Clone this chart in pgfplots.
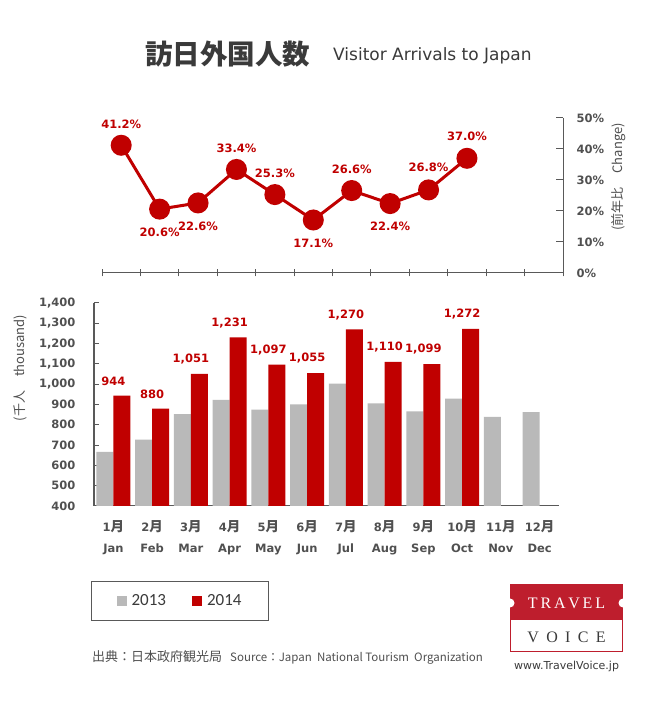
\documentclass[border=0pt]{standalone}
\usepackage{fontspec}
\setmainfont{DejaVu Sans}
\newfontfamily\cjk{Noto Sans CJK JP}
\newfontfamily\carlito{Carlito}
\newfontfamily\logoserif{Liberation Serif}
\usepackage{pgfplots}
\pgfplotsset{compat=1.18}
\pgfplotsset{/pgf/number format/.cd, 1000 sep={,}, assume math mode=true}

\definecolor{redbar}{HTML}{C00000}
\definecolor{graybar}{HTML}{B9B9B9}
\definecolor{axisgray}{HTML}{595959}
\definecolor{labelgray}{HTML}{505050}
\definecolor{titlegray}{HTML}{3A3A3A}
\definecolor{logored}{HTML}{BE1E2D}

\newcommand{\lblfont}{\fontsize{11.5}{21}\selectfont\bfseries}
\newcommand{\tsu}{{\cjk\fontsize{13.5}{21}\selectfont 月}}

\pgfplotstableread{
x    y     dy
0.5  41.2  21
1.5  20.6  -23
2.5  22.6  -23
3.5  33.4  21
4.5  25.3  21
5.5  17.1  -23
6.5  26.6  21
7.5  22.4  -23
8.5  26.8  23
9.5  37.0  22
}\change

\begin{document}
\begin{tikzpicture}[x=1pt,y=1pt]
\fill[white] (0,0) rectangle (655,707);

% title
\node[anchor=west, inner sep=0, text=titlegray, font=\cjk\bfseries\fontsize{27.5}{30}\selectfont] at (145,653) {訪日外国人数};
\node[anchor=west, inner sep=0, text=titlegray, font=\fontsize{17}{20}\selectfont] at (333,651) {Visitor Arrivals to Japan};

% year-on-year change
\begin{axis}[
  at={(102pt,434pt)}, anchor=south west,
  scale only axis, width=461pt, height=155pt,
  xmin=0, xmax=12, ymin=0, ymax=50,
  enlargelimits=false,
  axis x line*=bottom, axis y line*=right,
  axis line style={-, draw=axisgray, line width=1pt},
  xtick={0,1,2,3,4,5,6,7,8,9,10,11,12}, xticklabels={},
  ytick={0,10,20,30,40,50},
  yticklabel={\pgfmathprintnumber{\tick}\%},
  yticklabel style={font=\lblfont, text=labelgray, xshift=10pt},
  tick align=inside, major tick length=7pt,
  tick style={draw=axisgray, line width=1pt},
  major x tick style={yshift=-3.5pt},
]
\addplot[redbar, line width=3pt, mark=*, mark size=9pt,
  mark options={fill=redbar, draw=none},
  point meta=explicit,
  visualization depends on={\thisrow{dy} \as \dy},
  nodes near coords={\pgfmathprintnumber[fixed,fixed zerofill,precision=1]{\pgfplotspointmeta}\%},
  every node near coord/.append style={font=\lblfont, text=redbar, anchor=center, yshift=\dy pt}]
  table[x=x, y=y, meta=y] {\change};
\end{axis}

% arrivals
\begin{axis}[
  at={(94pt,201pt)}, anchor=south west,
  scale only axis, width=465pt, height=203pt,
  xmin=0, xmax=12, ymin=400, ymax=1400,
  enlargelimits=false,
  axis x line*=bottom, axis y line*=left,
  axis line style={-, draw=axisgray, line width=1pt},
  ytick={400,500,600,700,800,900,1000,1100,1200,1300,1400},
  yticklabel style={font=\lblfont, text=labelgray, xshift=-15pt},
  xtick={0.5,1.5,2.5,3.5,4.5,5.5,6.5,7.5,8.5,9.5,10.5,11.5},
  xticklabels={{1\tsu\\Jan},{2\tsu\\Feb},{3\tsu\\Mar},{4\tsu\\Apr},{5\tsu\\May},{6\tsu\\Jun},
    {7\tsu\\Jul},{8\tsu\\Aug},{9\tsu\\Sep},{10\tsu\\Oct},{11\tsu\\Nov},{12\tsu\\Dec}},
  xticklabel style={align=center, font=\lblfont, text=labelgray, yshift=-11pt},
  major x tick style={draw=none},
  tick align=inside, major tick length=5pt,
  tick style={draw=axisgray, line width=1pt},
  legend columns=2,
  legend style={at={(0.185,-0.468)}, anchor=center, draw=axisgray, line width=1pt,
    font=\carlito\fontsize{17}{20}\selectfont, text=titlegray,
    inner xsep=25pt, inner ysep=11pt,
    /tikz/every even column/.append style={column sep=24pt}},
]
\addplot[ybar, bar width=0.44, bar shift=-0.22, fill=graybar, draw=none,
  legend image code/.code={\fill[graybar] (0pt,-5pt) rectangle (10pt,5pt); \path (13pt,0pt);}]
  coordinates {(0.5,667) (1.5,727) (2.5,853) (3.5,923) (4.5,875) (5.5,900)
    (6.5,1003) (7.5,906) (8.5,866) (9.5,929) (10.5,839) (11.5,863)};
\addlegendentry{2013}
\addplot[ybar, bar width=0.44, bar shift=0.22, fill=redbar, draw=none,
  nodes near coords,
  every node near coord/.append style={font=\lblfont, text=redbar, yshift=6pt},
  legend image code/.code={\fill[redbar] (0pt,-5pt) rectangle (10pt,5pt); \path (13pt,0pt);}]
  coordinates {(0.5,944) (1.5,880) (2.5,1051) (3.5,1231) (4.5,1097) (5.5,1055)
    (6.5,1270) (7.5,1110) (8.5,1099) (9.5,1272)};
\addlegendentry{2014}
\end{axis}

% axis titles
\node[rotate=90, text=labelgray, font=\cjk\fontsize{13}{15}\selectfont] at (20,339) {(千人\hspace{14pt}thousand)};
\node[rotate=90, text=labelgray, font=\cjk\fontsize{13}{15}\selectfont] at (619,530) {(前年比\hspace{14pt}Change)};

% source
\node[anchor=west, inner sep=0, text=labelgray, font=\cjk\fontsize{13}{15}\selectfont] at (92,50)
  {出典：日本政府観光局\hspace{8pt}{\fontsize{11.5}{14}\selectfont Source：Japan\ \ National Tourism\ \ Organization}};

% logo
\fill[logored] (510,87) rectangle (623,123);
\fill[white] (510,104) circle (4.5);
\fill[white] (623,104) circle (4.5);
\draw[logored, line width=1pt] (510.5,55.5) rectangle (622.5,87);
\node[text=white, font=\logoserif\fontsize{16}{18}\selectfont] at (566.5,104)
  {T\hspace{2.8pt}R\hspace{2.8pt}A\hspace{2.8pt}V\hspace{2.8pt}E\hspace{2.8pt}L};
\node[text=titlegray, font=\logoserif\fontsize{16}{18}\selectfont] at (566.5,70)
  {V\hspace{7.3pt}O\hspace{7.3pt}I\hspace{7.3pt}C\hspace{7.3pt}E};
\node[text=titlegray, font=\fontsize{11}{13}\selectfont] at (566.5,41) {www.TravelVoice.jp};
\end{tikzpicture}
\end{document}
